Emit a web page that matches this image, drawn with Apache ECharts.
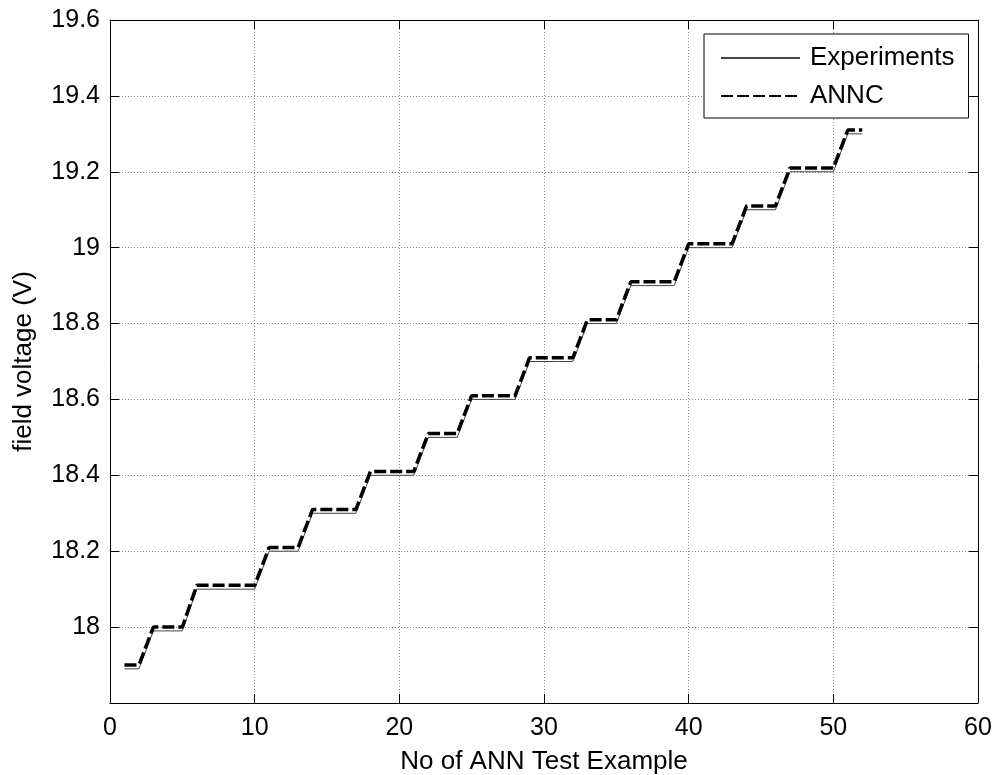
<!DOCTYPE html>
<html>
<head>
<meta charset="utf-8">
<script src="https://cdn.jsdelivr.net/npm/echarts@6/dist/echarts.min.js"></script>
<style>
html,body{margin:0;padding:0;background:#fff;}
#chart{width:995px;height:775px;}
</style>
</head>
<body>
<div id="chart"></div>
<script>
const testIndex = [1,2,3,4,5,6,7,8,9,10,11,12,13,14,15,16,17,18,19,20,21,22,23,24,25,26,27,28,29,30,31,32,33,34,35,36,37,38,39,40,41,42,43,44,45,46,47,48,49,50,51,52];
const experiments = [17.89,17.89,17.99,17.99,17.99,18.10,18.10,18.10,18.10,18.10,18.20,18.20,18.20,18.30,18.30,18.30,18.30,18.40,18.40,18.40,18.40,18.50,18.50,18.50,18.60,18.60,18.60,18.60,18.70,18.70,18.70,18.70,18.80,18.80,18.80,18.90,18.90,18.90,18.90,19.00,19.00,19.00,19.00,19.10,19.10,19.10,19.20,19.20,19.20,19.20,19.30,19.30];
const annc = [17.90,17.90,18.00,18.00,18.00,18.11,18.11,18.11,18.11,18.11,18.21,18.21,18.21,18.31,18.31,18.31,18.31,18.41,18.41,18.41,18.41,18.51,18.51,18.51,18.61,18.61,18.61,18.61,18.71,18.71,18.71,18.71,18.81,18.81,18.81,18.91,18.91,18.91,18.91,19.01,19.01,19.01,19.01,19.11,19.11,19.11,19.21,19.21,19.21,19.21,19.31,19.31];
const seriesNames = ['Experiments','ANNC'];
const xTitle = 'No of ANN Test Example';
const yTitle = 'field voltage (V)';

const FONT = 'Liberation Sans, Arial, sans-serif';
const FS = 25;   // tick labels
const FT = 26;   // titles and legend
const chart = echarts.init(document.getElementById('chart'), null, {renderer:'canvas'});

const yFmt = v => (Math.abs(v - 17.8) < 1e-6) ? '' : String(Math.round(v * 10) / 10);

const option = {
  backgroundColor: '#fff',
  animation: false,
  textStyle: {fontFamily: FONT},
  grid: {left: 110, top: 20, right: 17, bottom: 72, containLabel: false, outerBoundsMode: 'none'},
  legend: {
    orient: 'vertical',
    left: 704, top: 34,
    padding: [10, 14, 8, 16],
    itemGap: 10,
    itemWidth: 79, itemHeight: 20,
    backgroundColor: '#fff',
    borderColor: '#000', borderWidth: 1, borderRadius: 0,
    itemStyle: {opacity: 0},
    textStyle: {fontFamily: FONT, fontSize: FT, color: '#000', lineHeight: 28, padding: [0, 0, 0, 5]},
    data: seriesNames
  },
  xAxis: [{
    type: 'value', min: 0, max: 60, interval: 10,
    name: xTitle, nameLocation: 'middle', nameGap: 46,
    nameTextStyle: {fontFamily: FONT, fontSize: FT, color: '#000'},
    axisLine: {show: true, onZero: false, lineStyle: {color: '#000', width: 1}},
    axisTick: {show: true, inside: true, length: 9, lineStyle: {color: '#000'}},
    axisLabel: {fontFamily: FONT, fontSize: FS, color: '#000', margin: 13},
    splitLine: {show: true, lineStyle: {color: '#8a8a8a', type: [1, 2], width: 1}}
  }, {
    type: 'value', min: 0, max: 60, interval: 10, position: 'top',
    axisLine: {show: true, onZero: false, lineStyle: {color: '#000', width: 1}},
    axisTick: {show: true, inside: true, length: 9, lineStyle: {color: '#000'}},
    axisLabel: {show: false}, splitLine: {show: false}
  }],
  yAxis: [{
    type: 'value', min: 17.8, max: 19.6, interval: 0.2,
    name: yTitle, nameLocation: 'middle', nameGap: 73, nameRotate: 90,
    nameTextStyle: {fontFamily: FONT, fontSize: FT, color: '#000'},
    axisLine: {show: true, onZero: false, lineStyle: {color: '#000', width: 1}},
    axisTick: {show: true, inside: true, length: 9, lineStyle: {color: '#000'}},
    axisLabel: {fontFamily: FONT, fontSize: FS, color: '#000', margin: 10, formatter: yFmt},
    splitLine: {show: true, lineStyle: {color: '#8a8a8a', type: [1, 2], width: 1}}
  }, {
    type: 'value', min: 17.8, max: 19.6, interval: 0.2, position: 'right',
    axisLine: {show: true, onZero: false, lineStyle: {color: '#000', width: 1}},
    axisTick: {show: true, inside: true, length: 9, lineStyle: {color: '#000'}},
    axisLabel: {show: false}, splitLine: {show: false}
  }],
  series: [{
    name: seriesNames[0], type: 'line', xAxisIndex: 0, yAxisIndex: 0,
    data: testIndex.map((x, i) => [x, experiments[i]]),
    symbol: 'none', showSymbol: false,
    lineStyle: {color: '#444', width: 1},
    itemStyle: {color: '#444'},
    z: 2
  }, {
    name: seriesNames[1], type: 'line', xAxisIndex: 0, yAxisIndex: 0,
    data: testIndex.map((x, i) => [x, annc[i]]),
    symbol: 'none', showSymbol: false,
    lineStyle: {color: '#000', width: 3.5, type: [12, 4]},
    itemStyle: {color: '#000'},
    z: 3
  }]
};
chart.setOption(option);
</script>
</body>
</html>
